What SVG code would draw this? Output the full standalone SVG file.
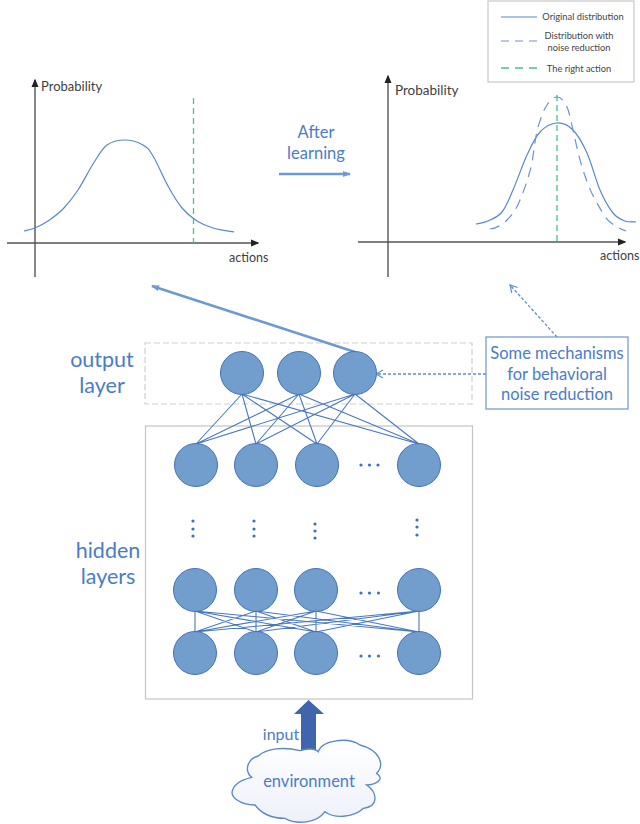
<svg xmlns="http://www.w3.org/2000/svg" width="640" height="824" viewBox="0 0 640 824">
<style>
.n{fill:#719ecd;stroke:#4472b8;stroke-width:1}
.ax{fill:none;stroke:#555;stroke-width:1.4}
.c{fill:none;stroke:#5b88c8;stroke-width:1.2}
.d{fill:none;stroke:#6f94d0;stroke-width:1.2;stroke-dasharray:10 7}
.g{fill:none;stroke:#45c489;stroke-width:1.3;stroke-dasharray:6 4}
.ld{stroke-dasharray:8 6}
.e{fill:none;stroke:#4a78c0;stroke-width:1.1}
.t{fill:none;stroke:#5f8ccc;stroke-width:1.3;stroke-dasharray:3 2}
.k{font-family:Lato,"Open Sans",sans-serif;fill:#404040}
.b{font-family:Lato,"Open Sans",sans-serif;fill:#4a7cc8;text-anchor:middle}
.l{font-family:Lato,"Open Sans",sans-serif;fill:#444;font-size:9.300px;text-anchor:middle}
.p{fill:#3f6fc0}
</style>
<defs>
<marker id="ah" markerWidth="6" markerHeight="6" refX="5" refY="3" orient="auto"><path d="M0,0.5L6,3L0,5.500Z" fill="#222"/></marker>
<marker id="ab" markerWidth="10" markerHeight="8" refX="7" refY="3" orient="auto" markerUnits="userSpaceOnUse"><path d="M0,0L8,3L0,6Z" fill="#6d9ad0"/></marker>
<marker id="ao" markerWidth="10" markerHeight="10" refX="8" refY="5" orient="auto" markerUnits="userSpaceOnUse"><path d="M1,1L8,5L1,9" fill="none" stroke="#5f8ccc" stroke-width="1.2"/></marker>
<linearGradient id="cl" x1="0" y1="0" x2="0" y2="1"><stop offset="0" stop-color="#fff"/><stop offset="1" stop-color="#eef1fa"/></linearGradient>
</defs>
<rect width="640" height="824" fill="#fff"/>

<g id="output-layer">
<rect x="145" y="343" width="327" height="61" fill="none" stroke="#cfcfcf" stroke-width="1.2" stroke-dasharray="6 3"/>
<text class="b" x="102" y="367" font-size="21.500">output</text>
<text class="b" x="102" y="393" font-size="21.500">layer</text>
</g>
<g id="hidden-layers">
<rect x="145.500" y="426" width="327" height="273" fill="none" stroke="#c4c4c4" stroke-width="1.2"/>
<text class="b" x="108" y="558" font-size="21.500">hidden</text>
<text class="b" x="108" y="584" font-size="21.500">layers</text>
</g>

<g id="connectors">
<path class="e" d="M242,394L196,444M242,394L256,444M242,394L317,444M242,394L419,444M299,394L196,444M299,394L256,444M299,394L317,444M299,394L419,444M355,394L196,444M355,394L256,444M355,394L317,444M355,394L419,444"/>
<path class="e" d="M195,611L195,632M195,611L256,632M195,611L316,632M195,611L419,632M256,611L195,632M256,611L256,632M256,611L316,632M256,611L419,632M316,611L195,632M316,611L256,632M316,611L316,632M316,611L419,632M419,611L195,632M419,611L256,632M419,611L316,632M419,611L419,632"/>
<path d="M355,352L152,286" fill="none" stroke="#6d9ad0" stroke-width="2.600" marker-end="url(#ab)"/>
<path d="M279,174L350,174" fill="none" stroke="#6d9ad0" stroke-width="2.400" marker-end="url(#ab)"/>
<path class="t" d="M486,374L376,374" marker-end="url(#ao)"/>
<path class="t" d="M557,337L510,285" marker-end="url(#ao)"/>
</g>

<g id="chart-left">
<path class="ax" d="M35,277L35,80" marker-end="url(#ah)"/>
<path class="ax" d="M7,243L258,243" marker-end="url(#ah)"/>
<path class="g" d="M193.500,98L193.500,243"/>
<path class="c" d="M24,231C26,230.500 31,229.700 35,228C39,226.300 43.300,224.200 48,221C52.700,217.800 58,214.200 63,209C68,203.800 73,197.500 78,190C83,182.500 88.200,171.500 93,164C97.800,156.500 101.700,149 107,145C112.300,141 119,140 125,140C131,140 138.300,142.300 143,145C147.700,147.700 148.800,149.200 153,156C157.200,162.800 163.200,177.300 168,186C172.800,194.700 177.200,202.200 182,208C186.800,213.800 191.800,217.700 197,221C202.200,224.300 206.800,226.200 213,228C219.200,229.800 230,231.400 234,232"/>
<text class="k" x="41" y="91" font-size="13">Probability</text>
<text class="k" x="229" y="262" font-size="12.500">actions</text>
</g>

<g id="chart-right">
<path class="ax" d="M388,277L388,76" marker-end="url(#ah)"/>
<path class="ax" d="M358,242L625,242" marker-end="url(#ah)"/>
<path class="g" d="M557,95L557,242"/>
<path class="c" d="M476,224C478,223.500 483.700,223 488,221C492.300,219 497.800,217.200 502,212C506.200,206.800 508.800,199.500 513,190C517.200,180.500 522.500,164.700 527,155C531.500,145.300 535,137.300 540,132C545,126.700 551.500,123.300 557,123C562.500,122.700 568,125 573,130C578,135 582.500,143 587,153C591.500,163 595.700,180 600,190C604.300,200 608.800,207.800 613,213C617.200,218.200 621.200,219.500 625,221C628.800,222.500 634,221.700 636,222"/>
<path class="d" d="M490,229C497,228 502,225 507,220C513,214 517,208 520,200C525,188 529,176 532,163C534,150 535,139 538,127C541,118 543,111 547,105C550,100 553,97 557,97C561,97 564,101 567,107C570,114 571,122 573,130C576,144 579,157 583,170C587,182 591,193 597,203C601,210 605,218 610,222C615,226 620,229 626,231"/>
<text class="k" x="395" y="95" font-size="13.500">Probability</text>
<text class="k" x="600" y="260" font-size="12.500">actions</text>
</g>

<g id="after-learning">
<text class="b" x="316" y="138" font-size="16.500">After</text>
<text class="b" x="316" y="159" font-size="16.500">learning</text>
</g>

<g id="legend">
<rect x="488" y="1" width="146" height="81" fill="#fff" stroke="#c8c8c8" stroke-width="1.2"/>
<path class="c" d="M501,17L537,17"/>
<path class="d ld" d="M501,41L537,41"/>
<path class="g ld" d="M501,68L537,68"/>
<text class="l" x="583" y="20">Original distribution</text>
<text class="l" x="579" y="38.500">Distribution with</text>
<text class="l" x="579" y="51">noise reduction</text>
<text class="l" x="579" y="71.500">The right action</text>
</g>

<g id="o1"><circle class="n" cx="242" cy="373" r="21.500"/></g>
<g id="o2"><circle class="n" cx="299" cy="373" r="21.500"/></g>
<g id="o3"><circle class="n" cx="355" cy="373" r="21.500"/></g>
<g id="h11"><circle class="n" cx="196" cy="465" r="21.500"/></g>
<g id="h12"><circle class="n" cx="256" cy="465" r="21.500"/></g>
<g id="h13"><circle class="n" cx="317" cy="465" r="21.500"/></g>
<g id="h14"><circle class="n" cx="419" cy="465" r="21.500"/></g>
<g id="h21"><circle class="n" cx="195" cy="590" r="21.500"/></g>
<g id="h22"><circle class="n" cx="256" cy="590" r="21.500"/></g>
<g id="h23"><circle class="n" cx="316" cy="590" r="21.500"/></g>
<g id="h24"><circle class="n" cx="419" cy="590" r="21.500"/></g>
<g id="h31"><circle class="n" cx="195" cy="653" r="21.500"/></g>
<g id="h32"><circle class="n" cx="256" cy="653" r="21.500"/></g>
<g id="h33"><circle class="n" cx="316" cy="653" r="21.500"/></g>
<g id="h34"><circle class="n" cx="419" cy="653" r="21.500"/></g>

<g id="ellipses">
<circle class="p" cx="361" cy="465" r="1.600"/><circle class="p" cx="369.500" cy="465" r="1.600"/><circle class="p" cx="378" cy="465" r="1.600"/>
<circle class="p" cx="361" cy="593" r="1.600"/><circle class="p" cx="369.500" cy="593" r="1.600"/><circle class="p" cx="378.500" cy="593" r="1.600"/>
<circle class="p" cx="361" cy="656" r="1.600"/><circle class="p" cx="369.500" cy="656" r="1.600"/><circle class="p" cx="378.500" cy="656" r="1.600"/>
<circle class="p" cx="193" cy="521" r="1.600"/><circle class="p" cx="193" cy="529" r="1.600"/><circle class="p" cx="193" cy="536" r="1.600"/>
<circle class="p" cx="254" cy="521" r="1.600"/><circle class="p" cx="254" cy="529" r="1.600"/><circle class="p" cx="254" cy="536" r="1.600"/>
<circle class="p" cx="315" cy="524" r="1.600"/><circle class="p" cx="315" cy="531" r="1.600"/><circle class="p" cx="315" cy="538" r="1.600"/>
<circle class="p" cx="417" cy="520" r="1.600"/><circle class="p" cx="417" cy="527" r="1.600"/><circle class="p" cx="417" cy="535" r="1.600"/>
</g>

<g id="mechanisms">
<rect x="486" y="337" width="142" height="72" fill="#fff" stroke="#6d94cc" stroke-width="1.2"/>
<text class="b" x="557" y="359" font-size="16.500">Some mechanisms</text>
<text class="b" x="557" y="380" font-size="16.500">for behavioral</text>
<text class="b" x="557" y="400" font-size="16.500">noise reduction</text>
</g>

<g id="input">
<path d="M301,751L301,714L294,714L308.500,700L324,714L316,714L316,751Z" fill="#3f66ad"/>
<text class="b" x="281" y="740" font-size="16">input</text>
</g>

<g id="environment">
<path transform="translate(220 690) scale(.3333)" d="M95,262C70,240 85,205 115,198C140,175 190,170 240,182C260,175 285,175 295,185C305,150 385,140 420,165C480,180 495,225 470,250C500,270 460,285 440,285C475,310 475,350 430,355C400,385 340,385 315,365C290,400 230,405 195,385C150,385 120,365 105,345C60,345 25,320 40,295C50,275 80,265 95,262Z" fill="url(#cl)" stroke="#5b88c8" stroke-width="4"/>
<text class="b" x="309" y="787" font-size="16.500">environment</text>
</g>
</svg>
